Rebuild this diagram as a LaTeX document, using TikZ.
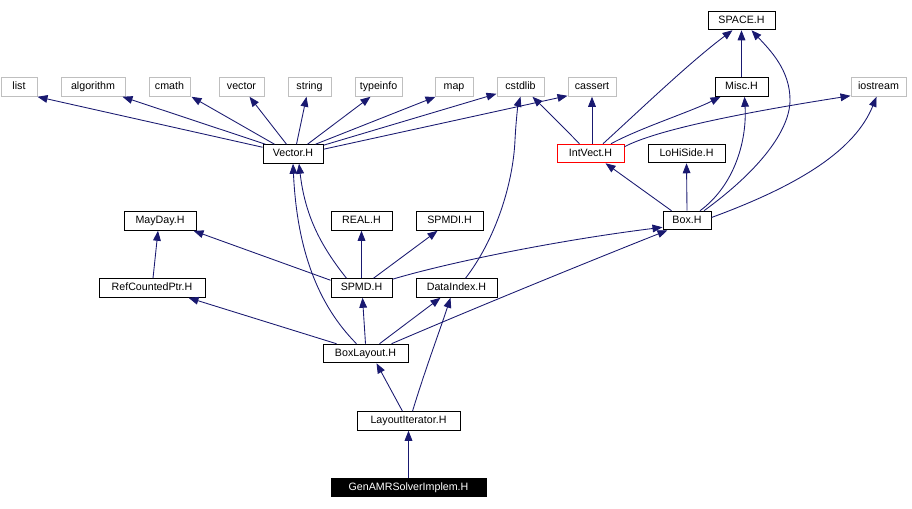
\documentclass[tikz,border=0pt]{standalone}
\usepackage{fontspec}
\setmainfont{Liberation Sans}
\usetikzlibrary{calc,arrows.meta}
\definecolor{edgecol}{HTML}{191970}
\definecolor{greyline}{HTML}{BFBFBF}
\begin{document}
\begin{tikzpicture}[x=0.75pt,y=-0.75pt,
  box/.style={draw=black, line width=0.75pt, minimum height=13.9pt, inner sep=0pt,
    text height=5.9pt, text depth=1.6pt, font=\fontsize{8}{9}\selectfont},
  greybox/.style={box, draw=greyline},
  redbox/.style={box, draw=red},
  mainbox/.style={box, fill=black, text=white},
  edge/.style={draw=edgecol, line width=0.65pt, -{Triangle[length=7.5pt,width=5.8pt]}}]
\useasboundingbox (0,0) rectangle (912,509);
% top row
\node[greybox, minimum width=27pt]    (list)   at (19,87)    {list};
\node[greybox, minimum width=48pt]    (alg)    at (93,87)    {algorithm};
\node[greybox, minimum width=30.75pt] (cmath)  at (169.5,87) {cmath};
\node[greybox, minimum width=33.75pt] (vector) at (241.5,87) {vector};
\node[greybox, minimum width=32.25pt] (string) at (309.5,87) {string};
\node[greybox, minimum width=35.25pt] (typeinfo) at (378.5,87) {typeinfo};
\node[greybox, minimum width=28.5pt]  (map)    at (454,87)   {map};
\node[greybox, minimum width=35.25pt] (cstdlib) at (520.5,87) {cstdlib};
\node[greybox, minimum width=36pt]    (cassert) at (592,87)  {cassert};
\node[box, minimum width=39.75pt]     (misc)   at (741.5,87) {Misc.H};
\node[greybox, minimum width=41.25pt] (io)     at (878.5,87) {iostream};
\node[box, minimum width=50.25pt]     (space)  at (741.5,20.5) {SPACE.H};
% second row
\node[box, minimum width=45pt]        (vec)    at (293,154)  {Vector.H};
\node[redbox, minimum width=50.25pt]  (iv)     at (590.5,153.5) {IntVect.H};
\node[box, minimum width=57.75pt]     (lohi)   at (686.5,153.5) {LoHiSide.H};
% third row
\node[box, minimum width=36pt]        (boxh)   at (687,220.5) {Box.H};
\node[box, minimum width=54pt]        (mayday) at (160,221)  {MayDay.H};
\node[box, minimum width=45.75pt]     (real)   at (361.5,221) {REAL.H};
\node[box, minimum width=50.25pt]     (spmdi)  at (449.5,221) {SPMDI.H};
% fourth row
\node[box, minimum width=79.5pt]      (rcp)    at (152,288)  {RefCountedPtr.H};
\node[box, minimum width=45.75pt]     (spmd)   at (361.5,288) {SPMD.H};
\node[box, minimum width=60.75pt]     (di)     at (456.5,288) {DataIndex.H};
% lower rows
\node[box, minimum width=63.75pt]     (bl)     at (365.5,353.5) {BoxLayout.H};
\node[box, minimum width=77.25pt]     (li)     at (408.5,421) {LayoutIterator.H};
\node[mainbox, minimum width=116.25pt] (gen)   at (408.5,487.5) {GenAMRSolverImplem.H};

% Vector.H edges
\draw[edge] ($(vec.north west)+(0,3)$) -- (list.south east);
\draw[edge] ($(vec.north west)+(3,0)$) -- ($(alg.south east)+(-3,0)$);
\draw[edge] ($(vec.north west)+(12,0)$) -- ($(cmath.south east)+(1,0)$);
\draw[edge] ($(vec.north west)+(24,0)$) -- ($(vector.south)+(8,0)$);
\draw[edge] ($(vec.north west)+(34,0)$) -- ($(string.south)+(-3,0)$);
\draw[edge] ($(vec.north west)+(45,0)$) -- ($(typeinfo.south)+(-8,0)$);
\draw[edge] ($(vec.north west)+(53,0)$) -- ($(map.south west)+(1,0)$);
\draw[edge] ($(vec.north east)+(0,1)$) -- ($(cstdlib.south west)+(0,-3)$);
\draw[edge] ($(vec.north east)+(0,5)$) -- ($(cassert.south west)+(0,-1)$);
% IntVect.H edges
\draw[edge] ($(iv.north west)+(23,0)$) .. controls (566,130) and (548,112) .. ($(cstdlib.south)+(12,0)$);
\draw[edge] ($(iv.north)+(1.5,0)$) -- (cassert.south);
\draw[edge] ($(iv.north)+(12.5,0)$) .. controls (640,110) and (690,62) .. ($(space.south)+(-9,0)$);
\draw[edge] ($(iv.north)+(20.5,0)$) .. controls (640,128) and (690,112) .. ($(misc.south)+(-21,0)$);
\draw[edge] ($(iv.north east)+(0,3)$) .. controls (660,128) and (760,110) .. ($(io.south west)+(0,-1)$);
% Misc.H
\draw[edge] (misc.north) -- (space.south);
% Box.H edges
\draw[edge] ($(boxh.north west)+(9,0)$) -- ($(iv.south)+(15,0)$);
\draw[edge] (boxh.north) -- (lohi.south);
\draw[edge] ($(boxh.north)+(13,0)$) .. controls (735,185) and (747,140) .. ($(misc.south)+(3,0)$);
\draw[edge] ($(boxh.north)+(17,0)$) .. controls (760,170) and (790,130) .. (790,100)
  .. controls (790,70) and (770,50) .. ($(space.south)+(10,0)$);
\draw[edge] ($(boxh.east)+(0,-3)$) .. controls (800,185) and (855,150) .. ($(io.south)+(-2,0)$);
% SPMD.H edges
\draw[edge] ($(spmd.north west)+(16,0)$) .. controls (320,245) and (305,215) .. ($(vec.south)+(6,0)$);
\draw[edge] ($(spmd.north west)+(0,2)$) -- ($(mayday.south east)+(-3,0)$);
\draw[edge] (spmd.north) -- (real.south);
\draw[edge] ($(spmd.north)+(12,0)$) -- ($(spmdi.south)+(-12,0)$);
\draw[edge] ($(spmd.north east)+(0,1)$) .. controls (450,262) and (560,240) .. ($(boxh.south west)+(0,-3)$);
% RefCountedPtr.H
\draw[edge] ($(rcp.north)+(1,0)$) -- ($(mayday.south)+(-2,0)$);
% DataIndex.H
\draw[edge] ($(di.north west)+(50,0)$) .. controls (495,240) and (513,185) .. (515,140)
  .. controls (516,120) and (518,105) .. (cstdlib.south);
% BoxLayout.H edges
\draw[edge] ($(bl.north west)+(14,0)$) -- ($(rcp.south east)+(-17,0)$);
\draw[edge] (bl.north) -- ($(spmd.south)+(1,0)$);
\draw[edge] ($(bl.north)+(14,0)$) -- ($(di.south)+(-16,0)$);
\draw[edge] ($(bl.north)+(26,0)$) .. controls (470,310) and (580,265) .. ($(boxh.south west)+(5,0)$);
\draw[edge] ($(bl.north west)+(34,0)$) .. controls (318,305) and (297,250) .. (vec.south);
% LayoutIterator.H edges
\draw[edge] ($(li.north)+(-6,0)$) -- ($(bl.south)+(11,0)$);
\draw[edge] ($(li.north)+(4,0)$) .. controls (425,370) and (440,330) .. ($(di.south)+(-6,0)$);
% GenAMRSolverImplem.H
\draw[edge] (gen.north) -- (li.south);
\end{tikzpicture}
\end{document}
